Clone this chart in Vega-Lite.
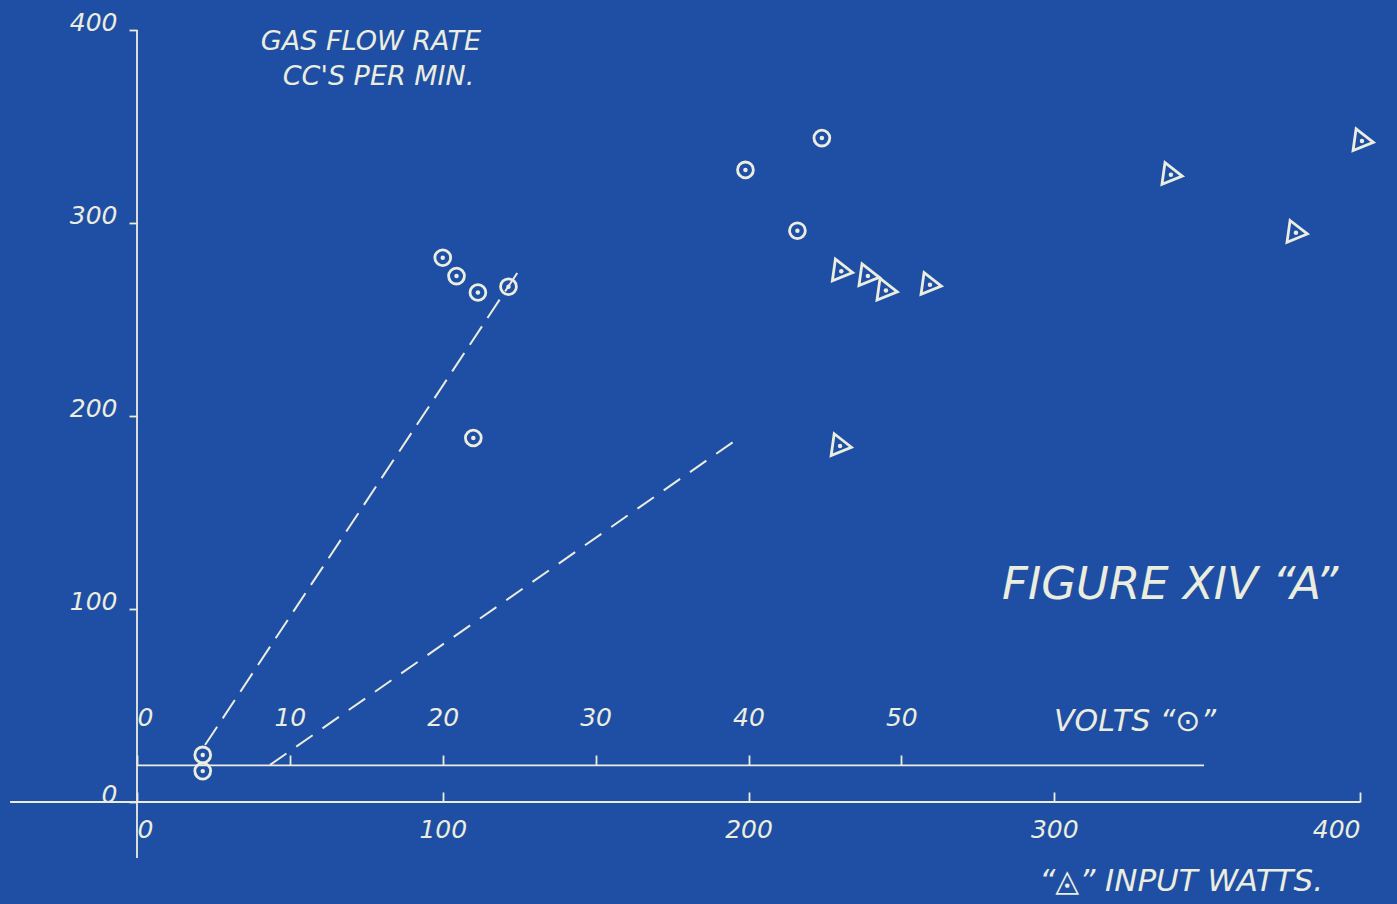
{
  "$schema": "https://vega.github.io/schema/vega-lite/v6.json",
  "width": 1223,
  "height": 772,
  "autosize": {"type": "none"},
  "padding": {"left": 137, "top": 30, "right": 37, "bottom": 102},
  "background": "#1f4fa4",
  "config": {
    "view": {"stroke": null},
    "axis": {
      "grid": false,
      "domain": false,
      "title": null,
      "tickColor": "#ebeddf",
      "tickWidth": 1.8,
      "labelColor": "#ebeddf",
      "labelFont": "DejaVu Sans",
      "labelFontWeight": "normal",
      "labelFontStyle": "italic",
      "labelFontSize": 25
    },
    "text": {"color": "#ebeddf", "font": "DejaVu Sans", "fontWeight": "normal", "fontStyle": "italic", "baseline": "middle", "align": "center"}
  },
  "layer": [
    {
      "layer": [
        {
          "data": {"values": [
            {"xa": -41.5, "xb": 400, "ya": 0, "yb": 0},
            {"xa": 0, "xb": 0, "ya": -29, "yb": 400},
            {"xa": 0, "xb": 349, "ya": 19, "yb": 19}
          ]},
          "mark": {"type": "rule", "color": "#ebeddf", "strokeWidth": 1.8},
          "encoding": {
            "x": {"field": "xa", "type": "quantitative", "scale": {"domain": [0, 400], "nice": false, "zero": false},
                  "axis": {"orient": "bottom", "values": [0, 100, 200, 300, 400], "tickSize": -10, "labelPadding": 25, "labelFlush": true}},
            "x2": {"field": "xb"},
            "y": {"field": "ya", "type": "quantitative", "scale": {"domain": [0, 400], "nice": false, "zero": false},
                  "axis": {"orient": "left", "values": [0, 100, 200, 300, 400], "tickSize": 8, "labelPadding": 12, "labelOffset": -8, "labelFlush": false}},
            "y2": {"field": "yb"}
          }
        },
        {
          "data": {"values": [
            {"watts": 43.5, "gas": 19.2},
            {"watts": 197.2, "gas": 189}
          ]},
          "mark": {"type": "line", "color": "#ebeddf", "strokeWidth": 2, "strokeDash": [20, 12]},
          "encoding": {
            "x": {"field": "watts", "type": "quantitative"},
            "y": {"field": "gas", "type": "quantitative"}
          }
        },
        {
          "data": {"name": "watts_pts", "values": [
            {"watts": 231.0, "gas": 275.0},
            {"watts": 239.7, "gas": 272.5},
            {"watts": 245.6, "gas": 265.0},
            {"watts": 260.0, "gas": 268.0},
            {"watts": 230.6, "gas": 184.5},
            {"watts": 338.8, "gas": 325.0},
            {"watts": 379.7, "gas": 295.0},
            {"watts": 401.3, "gas": 342.5}
          ]},
          "layer": [
            {
              "mark": {"type": "point", "shape": "triangle-right", "filled": false, "stroke": "#ebeddf", "strokeWidth": 2.8, "size": 480, "angle": 8, "opacity": 1},
              "encoding": {
                "x": {"field": "watts", "type": "quantitative"},
                "y": {"field": "gas", "type": "quantitative"}
              }
            },
            {
              "mark": {"type": "point", "shape": "circle", "filled": true, "color": "#ebeddf", "opacity": 1, "size": 20, "xOffset": -2},
              "encoding": {
                "x": {"field": "watts", "type": "quantitative"},
                "y": {"field": "gas", "type": "quantitative"}
              }
            }
          ]
        },
        {
          "data": {"values": [
            {"text": "GAS FLOW RATE", "watts": 76.5, "gas": 394},
            {"text": "CC'S PER MIN.", "watts": 79, "gas": 375.6}
          ]},
          "mark": {"type": "text", "fontSize": 27},
          "encoding": {
            "x": {"field": "watts", "type": "quantitative"},
            "y": {"field": "gas", "type": "quantitative"},
            "text": {"field": "text"}
          }
        },
        {
          "data": {"values": [
            {"text": "FIGURE XIV “A”", "watts": 337.9, "gas": 112.4}
          ]},
          "mark": {"type": "text", "fontSize": 45},
          "encoding": {
            "x": {"field": "watts", "type": "quantitative"},
            "y": {"field": "gas", "type": "quantitative"},
            "text": {"field": "text"}
          }
        },
        {
          "data": {"values": [
            {"text": "VOLTS “⊙”", "watts": 326.4, "gas": 41.5}
          ]},
          "mark": {"type": "text", "fontSize": 30},
          "encoding": {
            "x": {"field": "watts", "type": "quantitative"},
            "y": {"field": "gas", "type": "quantitative"},
            "text": {"field": "text"}
          }
        },
        {
          "data": {"values": [
            {"text": "“◬” INPUT WATTS.", "watts": 341.5, "gas": -41.5}
          ]},
          "mark": {"type": "text", "fontSize": 31},
          "encoding": {
            "x": {"field": "watts", "type": "quantitative"},
            "y": {"field": "gas", "type": "quantitative"},
            "text": {"field": "text"}
          }
        }
      ]
    },
    {
      "layer": [
        {
          "data": {"values": [
            {"volts": 4.45, "gas": 29.5},
            {"volts": 25.0, "gas": 275.6}
          ]},
          "mark": {"type": "line", "color": "#ebeddf", "strokeWidth": 2, "strokeDash": [22, 10]},
          "encoding": {
            "x": {"field": "volts", "type": "quantitative", "scale": {"domain": [0, 80], "nice": false, "zero": false},
                  "axis": {"orient": "top", "offset": -735, "values": [0, 10, 20, 30, 40, 50], "tickSize": 10, "labelPadding": 25, "labelFlush": true}},
            "y": {"field": "gas", "type": "quantitative"}
          }
        },
        {
          "data": {"values": [
            {"volts": 4.3, "gas": 24.4},
            {"volts": 4.3, "gas": 16.0},
            {"volts": 20.0, "gas": 282.0},
            {"volts": 20.9, "gas": 272.5},
            {"volts": 22.3, "gas": 264.0},
            {"volts": 24.3, "gas": 267.0},
            {"volts": 22.0, "gas": 188.6},
            {"volts": 39.8, "gas": 327.5},
            {"volts": 44.8, "gas": 344.0},
            {"volts": 43.2, "gas": 296.0}
          ]},
          "layer": [
            {
              "mark": {"type": "point", "shape": "circle", "filled": false, "stroke": "#ebeddf", "strokeWidth": 2.8, "size": 250, "opacity": 1},
              "encoding": {
                "x": {"field": "volts", "type": "quantitative"},
                "y": {"field": "gas", "type": "quantitative"}
              }
            },
            {
              "mark": {"type": "point", "shape": "circle", "filled": true, "color": "#ebeddf", "opacity": 1, "size": 20},
              "encoding": {
                "x": {"field": "volts", "type": "quantitative"},
                "y": {"field": "gas", "type": "quantitative"}
              }
            }
          ]
        }
      ]
    }
  ],
  "resolve": {"scale": {"x": "independent"}, "axis": {"x": "independent"}}
}
